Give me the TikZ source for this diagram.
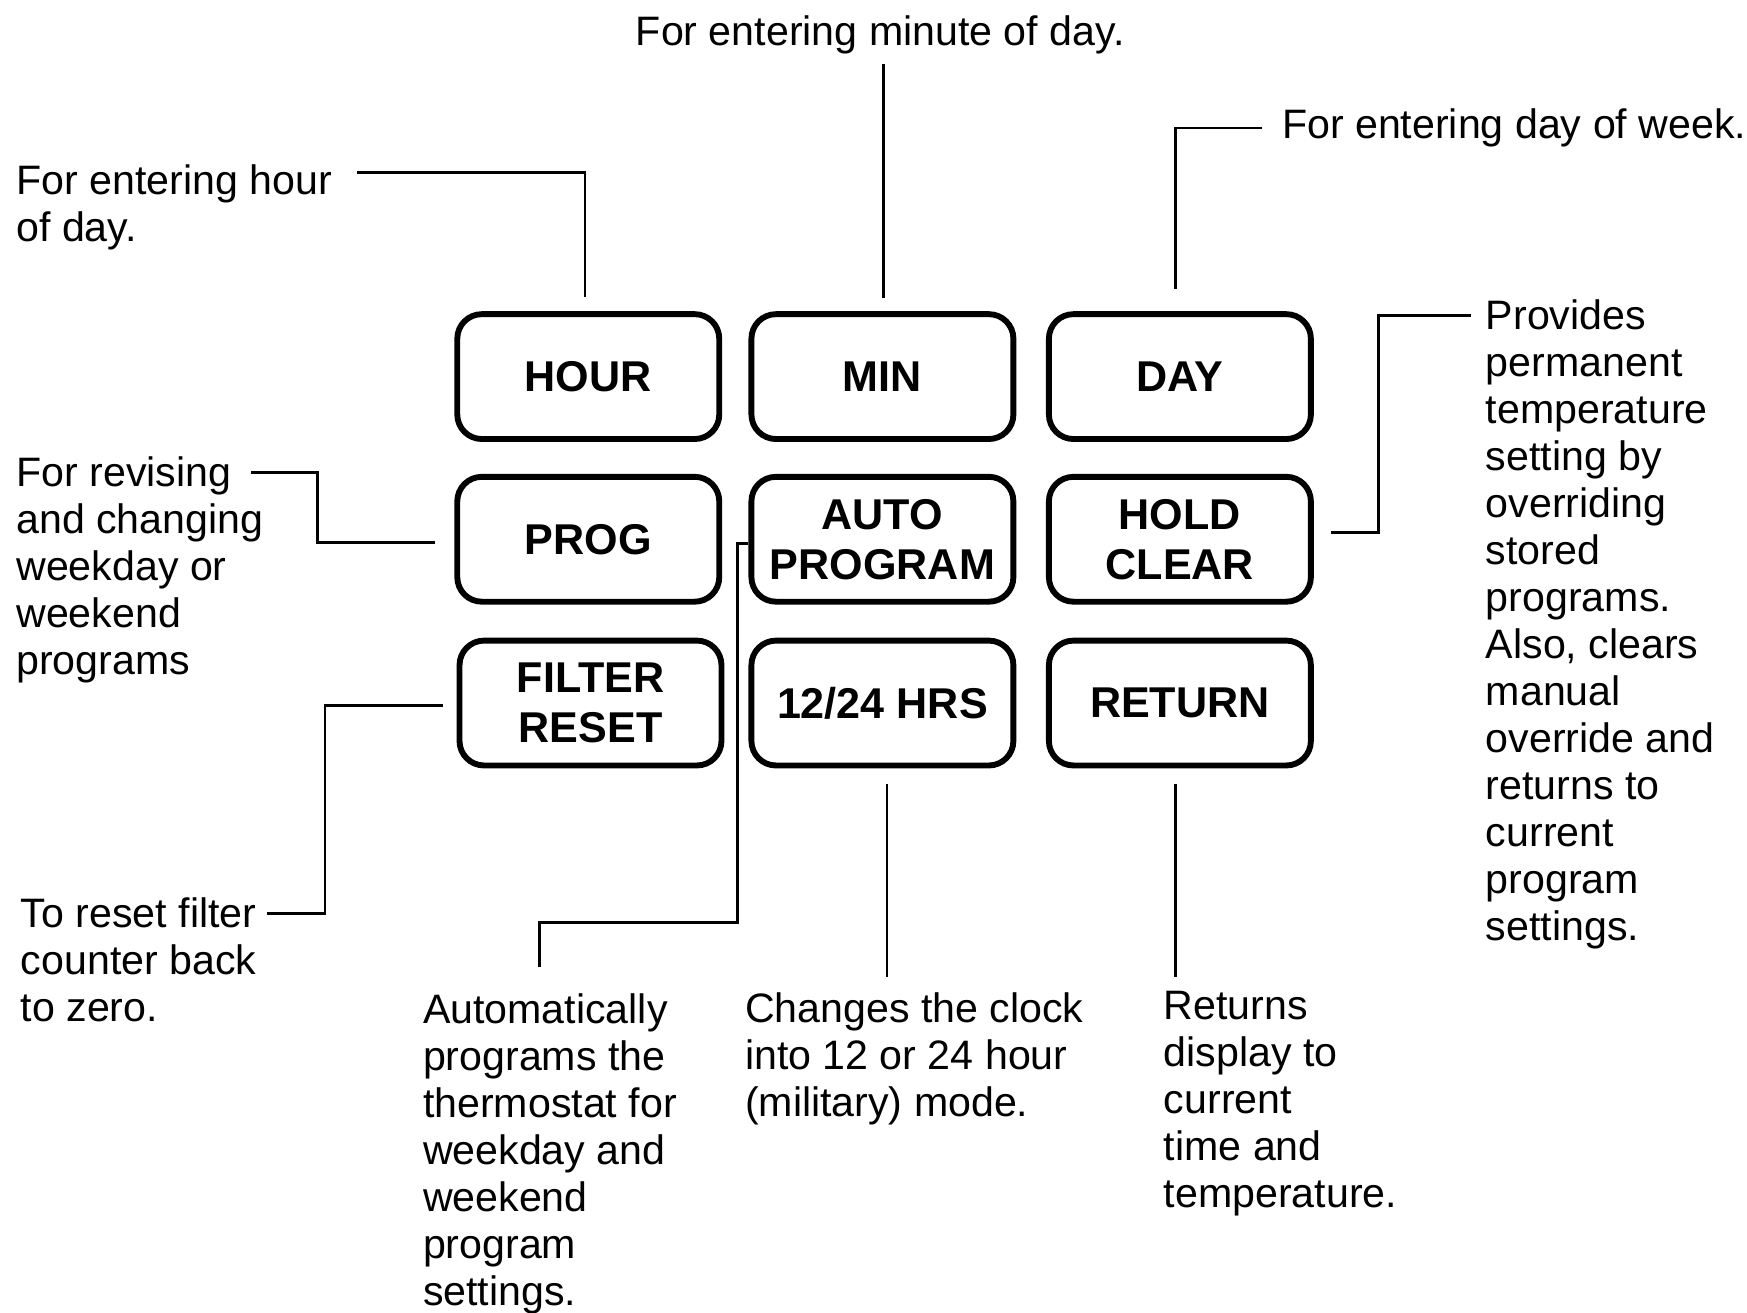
\documentclass[tikz,border=0pt]{standalone}
\usepackage{fontspec}
\setmainfont{Liberation Sans}
\tikzset{
  btn/.style={draw,line width=1.5pt,rounded corners=0.22cm,minimum width=2.35cm,
    minimum height=1.12cm,align=center,font=\bfseries\fontsize{11}{12.8}\selectfont},
  note/.style={anchor=north west,align=left,inner sep=0pt,font=\fontsize{10.5}{12}\selectfont},
  lead/.style={line width=0.7pt}
}
\begin{document}
\begin{tikzpicture}[x=0.01cm,y=-0.01cm]
      \useasboundingbox (0,0) rectangle (1568,1178);
      % keys
      \node[btn] (hour) at (528,338) {HOUR};
      \node[btn] (min) at (792,338) {MIN};
      \node[btn] (day) at (1059,338) {DAY};
      \node[btn] (prog) at (528,484) {PROG};
      \node[btn] (auto) at (792,484) {AUTO\\PROGRAM};
      \node[btn] (hold) at (1059,484) {HOLD\\CLEAR};
      \node[btn] (filter) at (530,631) {FILTER\\RESET};
      \node[btn] (hrs) at (792,631) {12/24 HRS};
      \node[btn] (ret) at (1059,631) {RETURN};
      % notes
      \node[note,anchor=north] (mintxt) at (790,13) {For entering minute of day.};
      \node[note] (daytxt) at (1150,97) {For entering day of week.};
      \node[note] (hourtxt) at (14,147) {For entering hour\\of day.};
      \node[note] (holdtxt) at (1333,268) {Provides\\permanent\\temperature\\setting by\\overriding\\stored\\programs.\\Also, clears\\manual\\override and\\returns to\\current\\program\\settings.};
      \node[note] (revtxt) at (14,409) {For revising\\and changing\\weekday or\\weekend\\programs};
      \node[note] (filtxt) at (18,805) {To reset filter\\counter back\\to zero.};
      \node[note] (autotxt) at (379,891) {Automatically\\programs the\\thermostat for\\weekday and\\weekend\\program\\settings.};
      \node[note] (hrstxt) at (668,890) {Changes the clock\\into 12 or 24 hour\\(military) mode.};
      \node[note] (rettxt) at (1044,889) {Returns\\display to\\current\\time and\\temperature.};
      \coordinate (hourend) at (320,155);
      \coordinate (holdend) at (1320,283);
      \coordinate (revend) at (225,424);
      \coordinate (filend) at (240,820);
      \coordinate (autoend) at (484,828);
      % leader lines
      \draw[lead] ([shift={(-3,-13)}]hour.north) |- (hourend);
      \draw[lead] ([shift={(1,-12)}]min.north) -- ++(0,-210);
      \draw[lead] ([shift={(-4,-20)}]day.north) |- ([shift={(-17,0)}]daytxt.west);
      \draw[lead] ([shift={(15,-6)}]hold.east) -- ++(43,0) |- (holdend);
      \draw[lead] ([shift={(-17,3)}]prog.west) -- ++(-106,0) |- (revend);
      \draw[lead] ([shift={(-12,2)}]filter.west) -- ++(-106,0) |- (filend);
      \draw[lead] ([yshift=-1pt]auto.west) -- ++(-10,0) |- (autoend) -- ++(0,40);
      \draw[lead] ([shift={(4,14)}]hrs.south) -- ++(0,173);
      \draw[lead] ([shift={(-4,14)}]ret.south) -- ++(0,173);
    \end{tikzpicture}
\end{document}
